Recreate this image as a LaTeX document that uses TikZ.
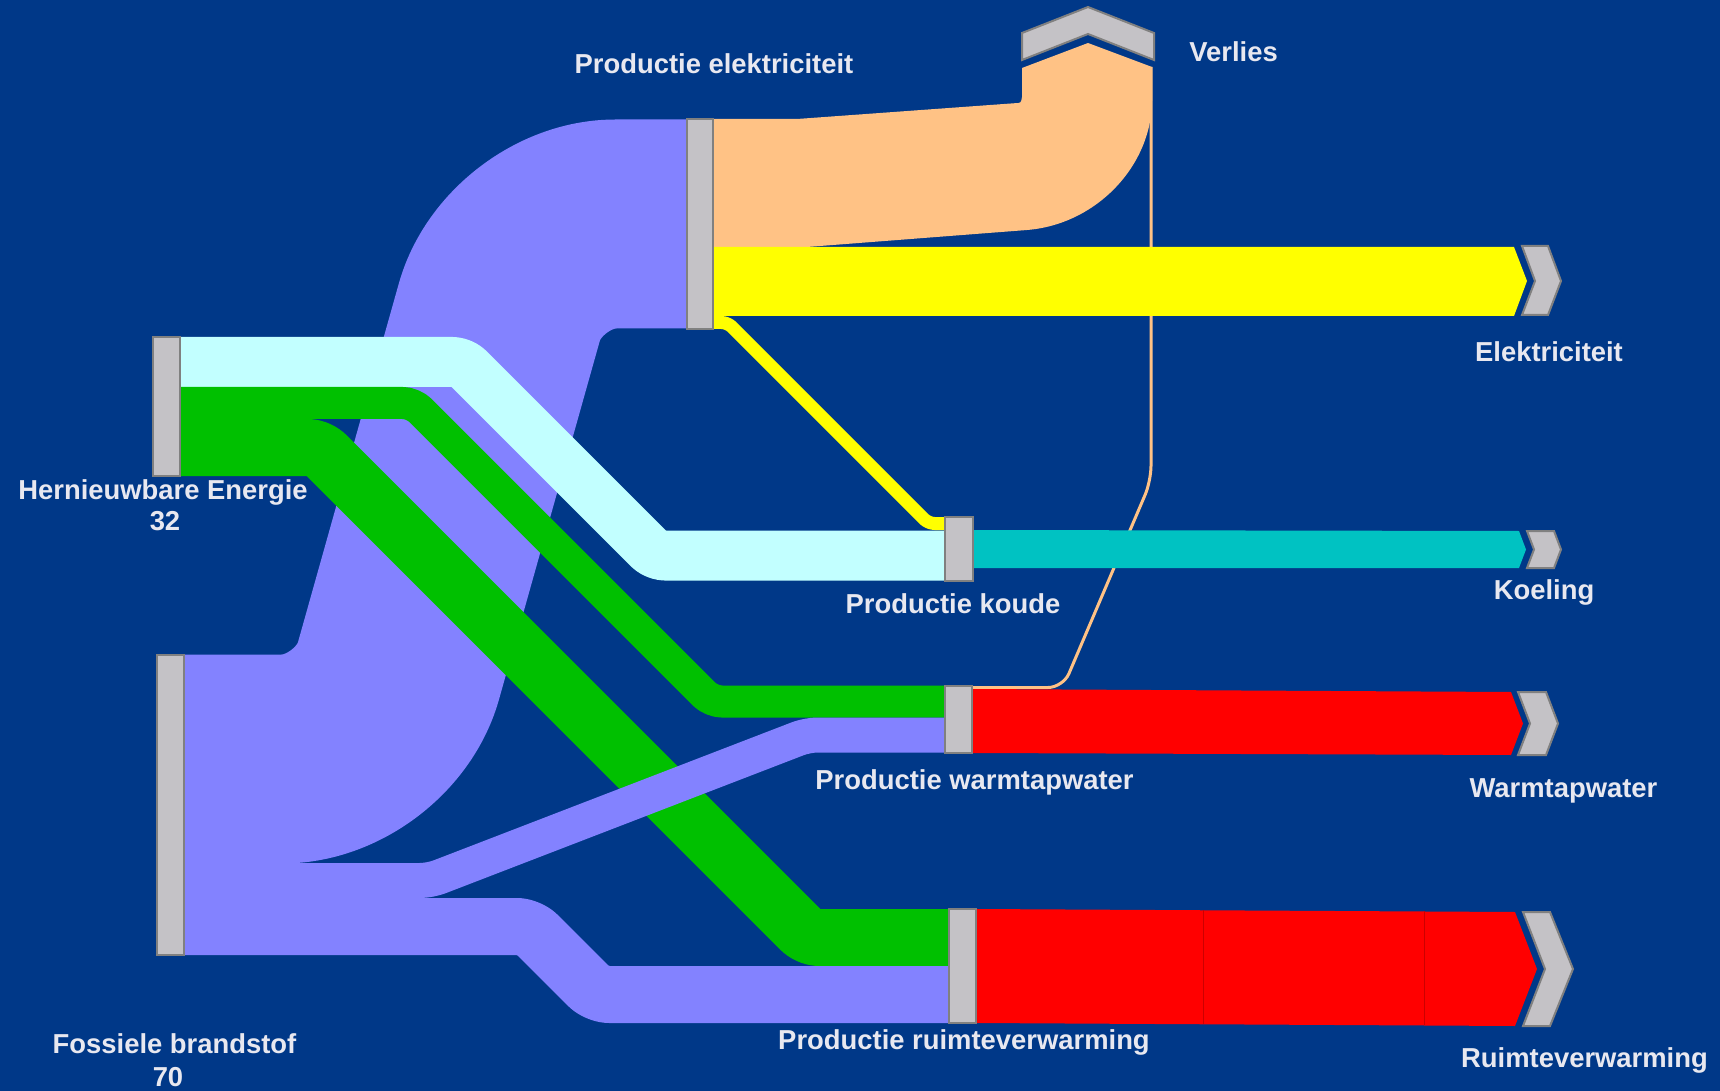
\documentclass[tikz,border=0pt]{standalone}
\usepackage{fontspec}
\setmainfont{Liberation Sans}
\definecolor{bgblue}{RGB}{0,56,136}
\definecolor{fpurple}{RGB}{131,130,255}
\definecolor{forange}{RGB}{255,194,133}
\definecolor{fyellow}{RGB}{255,255,0}
\definecolor{fcyan}{RGB}{194,255,255}
\definecolor{fgreen}{RGB}{0,192,0}
\definecolor{fteal}{RGB}{0,194,194}
\definecolor{fred}{RGB}{255,0,0}
\definecolor{barfill}{RGB}{196,194,198}
\definecolor{barline}{RGB}{128,128,128}
\definecolor{labtext}{RGB}{232,232,240}
\begin{document}
\begin{tikzpicture}[x=0.5pt,y=-0.5pt,
  flow/.style={line cap=butt,line join=round},
  bar/.style={rectangle,draw=barline,fill=barfill,line width=1pt,inner sep=0pt,outer sep=0pt},
  chev/.style={draw=barline,fill=barfill,line width=1pt,line join=miter},
  lab/.style={text=labtext,font=\bfseries\fontsize{13.7pt}{16pt}\selectfont,inner sep=0pt}]
\useasboundingbox (0,0) rectangle (1720,1091);
\fill[bgblue] (0,0) rectangle (1720,1091);

% loss line from Productie warmtapwater to Verlies
\draw[flow,forange,line width=1.5pt,rounded corners=7.5pt]
  (972,687.5) -- (1063,687.5) -- (1151,481) -- (1151,67);

% Fossiele -> Productie elektriciteit
\draw[flow,fpurple,line width=104.5pt,rounded corners=45.5pt]
  (184,759) -- (373.7,759) -- (524.1,224) -- (687,224);

% Hernieuwbare flows
\draw[flow,fcyan,line width=25pt,rounded corners=4.5pt]
  (180,362) -- (462,362) -- (655.5,555.5) -- (945,555.5);
\draw[flow,fgreen,line width=16pt,rounded corners=5pt]
  (180,403) -- (413,403) -- (711.5,701.5) -- (945,701.5);
\draw[flow,fgreen,line width=28.5pt,rounded corners=5pt]
  (180,447.5) -- (318.5,447.5) -- (808.5,937.5) -- (949,937.5);

% Fossiele -> warmtapwater / ruimteverwarming
\draw[flow,fpurple,line width=17.5pt,rounded corners=5pt]
  (184,880.5) -- (430,880.5) -- (807.5,735) -- (945,735);
\draw[flow,fpurple,line width=28.5pt,rounded corners=6pt]
  (184,926.5) -- (529,926.5) -- (597,994.5) -- (949,994.5);

% Productie elektriciteit -> Verlies
\fill[forange] (713,119) -- (797,119) -- (1015,103.2) .. controls (1021,103) .. (1022,97)
  -- (1022,68) -- (1088,43) -- (1152,67) -- (1152,100)
  .. controls (1152,166) and (1096,224.5) .. (1027,230) -- (807,247) -- (713,247) -- cycle;

% Productie elektriciteit -> Elektriciteit
\fill[fyellow] (713,247) -- (1514,247) -- (1527,281) -- (1514,316) -- (713,316) -- cycle;
% Productie elektriciteit -> Productie koude
\draw[flow,fyellow,line width=6.5pt,rounded corners=3pt]
  (713,322.5) -- (727.5,322.5) -- (928.5,523.5) -- (945,523.5);

% Koeling
\fill[fteal] (973,530) -- (1519,531) -- (1526,549.5) -- (1519,568) -- (973,568) -- cycle;
% Warmtapwater
\fill[fred] (972,689) -- (1511,692) -- (1523,723.5) -- (1511,755) -- (972,753) -- cycle;
% Ruimteverwarming
\fill[fred] (976,909) -- (1515,912) -- (1537,969) -- (1515,1026) -- (976,1023) -- cycle;
\draw[red!80!black,line width=0.5pt] (1203,910) -- (1203,1024) (1424,911) -- (1424,1025);

% process bars
\node[bar,minimum width=13pt,minimum height=105pt] (nElek) at (700,224) {};
\node[bar,minimum width=13.5pt,minimum height=69.5pt] (nHern) at (166.5,406.5) {};
\node[bar,minimum width=13.5pt,minimum height=150pt] (nFoss) at (170.5,805) {};
\node[bar,minimum width=14pt,minimum height=32pt] (nKoude) at (959,549) {};
\node[bar,minimum width=13.5pt,minimum height=33.5pt] (nWarm) at (958.5,719.5) {};
\node[bar,minimum width=13.5pt,minimum height=57pt] (nRuimte) at (962.5,966) {};

% end chevrons
\draw[chev] (1022,60) -- (1022,33) -- (1088,7) -- (1154,33) -- (1154,60) -- (1088,34) -- cycle;
\draw[chev] (1522,246) -- (1548,246) -- (1561,281) -- (1548,315) -- (1522,315) -- (1535,281) -- cycle;
\draw[chev] (1527,531) -- (1554,531) -- (1561,549.5) -- (1554,568) -- (1527,568) -- (1534,549.5) -- cycle;
\draw[chev] (1518,692) -- (1546,692) -- (1558,723.5) -- (1546,755) -- (1518,755) -- (1530,723.5) -- cycle;
\draw[chev] (1523,912) -- (1550,912) -- (1573,969) -- (1550,1026) -- (1523,1026) -- (1545,969) -- cycle;

% labels
\node[lab] (tElek) at (714,64) {Productie elektriciteit};
\node[lab,anchor=west] (tVerlies) at (1189,52) {Verlies};
\node[lab] (tElekOut) at (1549,352) {Elektriciteit};
\node[lab] (tHern) at (163,492) {Hernieuwbare Energie};
\node[lab] (tHernV) at (165,521) {32};
\node[lab] (tKoude) at (953,604) {Productie koude};
\node[lab] (tKoeling) at (1544,592) {Koeling};
\node[lab] (tWarm) at (974.5,782) {Productie warmtapwater};
\node[lab] (tWarmOut) at (1563.5,791) {Warmtapwater};
\node[lab] (tFoss) at (174.5,1044) {Fossiele brandstof};
\node[lab] (tFossV) at (168,1077) {70};
\node[lab] (tRuimte) at (964,1042) {Productie ruimteverwarming};
\node[lab] (tRuimteOut) at (1584.5,1060) {Ruimteverwarming};
\end{tikzpicture}
\end{document}
